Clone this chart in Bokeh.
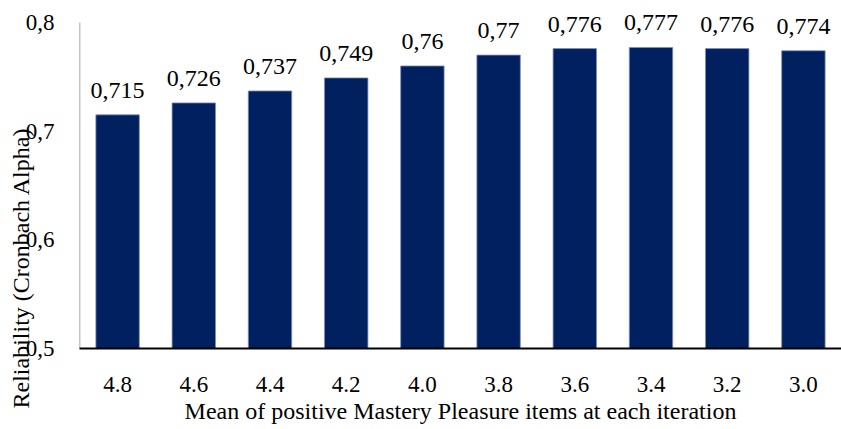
import math
from bokeh.plotting import figure
from bokeh.models import ColumnDataSource, FactorRange, Range1d, FixedTicker, LabelSet, Title
from bokeh.transform import dodge
from bokeh.embed import file_html
from bokeh.resources import INLINE

categories = ["4.8", "4.6", "4.4", "4.2", "4.0", "3.8", "3.6", "3.4", "3.2", "3.0"]
alpha = [0.715, 0.726, 0.737, 0.749, 0.76, 0.77, 0.776, 0.777, 0.776, 0.774]
y_ticks = [0.5, 0.6, 0.7, 0.8]
y_tick_labels = ["0,5", "0,6", "0,7", "0,8"]
y_title = "Reliability (Cronbach Alpha)"
x_title = "Mean of positive Mastery Pleasure items at each iteration"

FONT = "Liberation Serif"
BAR = "#002060"

labels = [str(v).replace(".", ",") for v in alpha]
src = ColumnDataSource(dict(x=categories, top=alpha, label=labels))

# frame top sits at the canvas top; 0.8 lies 22 px below it
PX_PER_UNIT = 326 / 0.3
y_end = y_ticks[-1] + 22 / PX_PER_UNIT

p = figure(
    width=841, height=429,
    x_range=FactorRange(*categories, range_padding=0),
    y_range=Range1d(y_ticks[0], y_end),
    output_backend="svg", toolbar_location=None,
    min_border_left=79, min_border_right=0, min_border_top=0, min_border_bottom=81,
)
p.outline_line_color = None
p.grid.grid_line_color = None
p.background_fill_color = "white"
p.border_fill_color = "white"

p.vbar(x="x", top="top", bottom=y_ticks[0], width=0.57, source=src,
       fill_color=BAR, line_color="#7f8fb5", line_width=0.8)

vals = LabelSet(x="x", y="top", text="label", source=src,
                text_align="center", text_baseline="bottom", y_offset=17,
                text_font=FONT, text_font_size="24px", text_color="black")
p.add_layout(vals)

# vertical axis line from 0,5 to 0,8 at the frame's left edge
axsrc = ColumnDataSource(dict(x=[categories[0]], y0=[y_ticks[0]], y1=[y_ticks[-1]]))
p.segment(x0=dodge("x", -0.5, range=p.x_range), x1=dodge("x", -0.5, range=p.x_range),
          y0="y0", y1="y1", source=axsrc, line_color="#8c8c8c", line_width=1.5)

# Y axis
p.yaxis.ticker = FixedTicker(ticks=y_ticks)
p.yaxis.major_label_overrides = {t: l for t, l in zip(y_ticks, y_tick_labels)}
p.yaxis.major_tick_line_color = None
p.yaxis.minor_tick_line_color = None
p.yaxis.major_tick_out = 0
p.yaxis.major_tick_in = 0
p.yaxis.minor_tick_out = 0
p.yaxis.axis_line_color = None
p.yaxis.major_label_standoff = 25
p.yaxis.major_label_text_font = FONT
p.yaxis.major_label_text_font_size = "23px"
p.yaxis.major_label_text_color = "black"

ytitle = Title(text=y_title, align="left", vertical_align="bottom",
               offset=-60, standoff=-22,
               text_font=FONT, text_font_size="24px", text_font_style="normal",
               text_color="black")
p.add_layout(ytitle, "left")

# X axis
p.xaxis.major_tick_line_color = None
p.xaxis.minor_tick_line_color = None
p.xaxis.major_tick_out = 0
p.xaxis.major_tick_in = 0
p.xaxis.minor_tick_out = 0
p.xaxis.axis_line_color = "black"
p.xaxis.axis_line_width = 2
p.xaxis.major_label_standoff = 28
p.xaxis.major_label_text_font = FONT
p.xaxis.major_label_text_font_size = "23px"
p.xaxis.major_label_text_color = "black"
p.xaxis.axis_label = x_title
p.xaxis.axis_label_text_font = FONT
p.xaxis.axis_label_text_font_size = "24px"
p.xaxis.axis_label_text_font_style = "normal"
p.xaxis.axis_label_text_color = "black"
p.xaxis.axis_label_standoff = 3

open("out.html", "w").write(file_html(p, INLINE))
